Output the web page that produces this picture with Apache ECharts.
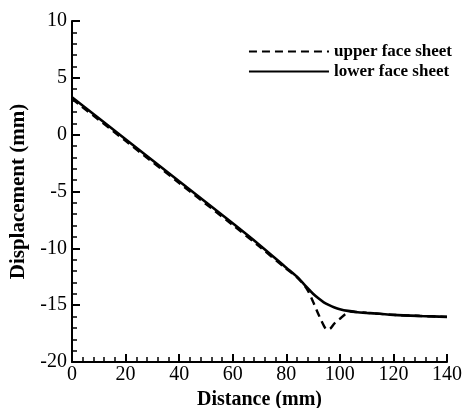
<!DOCTYPE html>
<html>
<head>
<meta charset="utf-8">
<script src="https://cdn.jsdelivr.net/npm/echarts@6/dist/echarts.min.js"></script>
<style>
  html, body { margin: 0; padding: 0; background: #fff; }
  #main { width: 462px; height: 408px; }
</style>
</head>
<body>
<div id="main"></div>
<script>
// values
var distLower = [0, 20, 40, 60, 70, 80, 84, 86, 88, 90, 92, 94, 96, 98, 100, 103, 106, 110, 115, 120, 130, 140];
var lowerFace = [3.3, -0.4, -4.1, -7.8, -9.7, -11.7, -12.5, -13.0, -13.5, -14.0, -14.4, -14.75, -15.0, -15.2, -15.35, -15.5, -15.6, -15.68, -15.76, -15.85, -15.95, -16.03];
var distUpper = [0, 20, 40, 60, 70, 80, 84, 86, 88, 90, 92, 94, 95, 96, 98, 100, 102, 104, 106, 110, 120, 130, 140];
var upperFace = [3.15, -0.55, -4.25, -7.95, -9.85, -11.8, -12.55, -13.05, -13.7, -14.7, -15.8, -16.8, -17.1, -17.1, -16.6, -16.2, -15.8, -15.55, -15.6, -15.68, -15.85, -15.95, -16.03];

function pairs(xs, ys) {
    return xs.map(function (x, i) { return [x, ys[i]]; });
}

var font = 'Liberation Serif, Times New Roman, serif';
var myChart = echarts.init(document.getElementById('main'));
myChart.setOption({
    animation: false,
    grid: { left: 72, right: 15, top: 21, bottom: 46, outerBoundsMode: 'none', containLabel: false },
    legend: {
        orient: 'vertical',
        right: 5,
        top: 38,
        itemWidth: 80,
        itemHeight: 14,
        itemGap: 3,
        itemStyle: { opacity: 0 },
        textStyle: { fontFamily: font, fontWeight: 'bold', fontSize: 17, color: '#000' },
        data: ['upper face sheet', 'lower face sheet']
    },
    xAxis: {
        type: 'value',
        min: 0, max: 140, interval: 20,
        name: 'Distance (mm)',
        nameLocation: 'middle',
        nameGap: 27,
        nameTextStyle: { fontFamily: font, fontWeight: 'bold', fontSize: 20, color: '#000' },
        axisLine: { onZero: false, lineStyle: { color: '#000', width: 2 } },
        axisTick: { inside: true, length: 8, lineStyle: { color: '#000', width: 2 } },
        minorTick: { show: true, splitNumber: 5, length: 5, lineStyle: { color: '#000', width: 1.5 } },
        axisLabel: { fontFamily: font, fontSize: 20, color: '#000', margin: 3 },
        splitLine: { show: false }
    },
    yAxis: {
        type: 'value',
        min: -20, max: 10, interval: 5,
        name: 'Displacement (mm)',
        nameLocation: 'middle',
        nameGap: 40,
        nameTextStyle: { fontFamily: font, fontWeight: 'bold', fontSize: 21, color: '#000' },
        axisLine: { onZero: false, lineStyle: { color: '#000', width: 2 } },
        axisTick: { inside: true, length: 8, lineStyle: { color: '#000', width: 2 } },
        minorTick: { show: true, splitNumber: 5, length: 5, lineStyle: { color: '#000', width: 1.5 } },
        axisLabel: { fontFamily: font, fontSize: 20, color: '#000', margin: 5 },
        splitLine: { show: false }
    },
    series: [
        {
            name: 'upper face sheet',
            type: 'line',
            smooth: 0.3,
            symbol: 'none',
            color: '#000',
            lineStyle: { color: '#000', width: 2.4, type: [8, 5] },
            data: pairs(distUpper, upperFace)
        },
        {
            name: 'lower face sheet',
            type: 'line',
            smooth: 0.3,
            symbol: 'none',
            color: '#000',
            lineStyle: { color: '#000', width: 2.6 },
            data: pairs(distLower, lowerFace)
        }
    ]
});
</script>
</body>
</html>
